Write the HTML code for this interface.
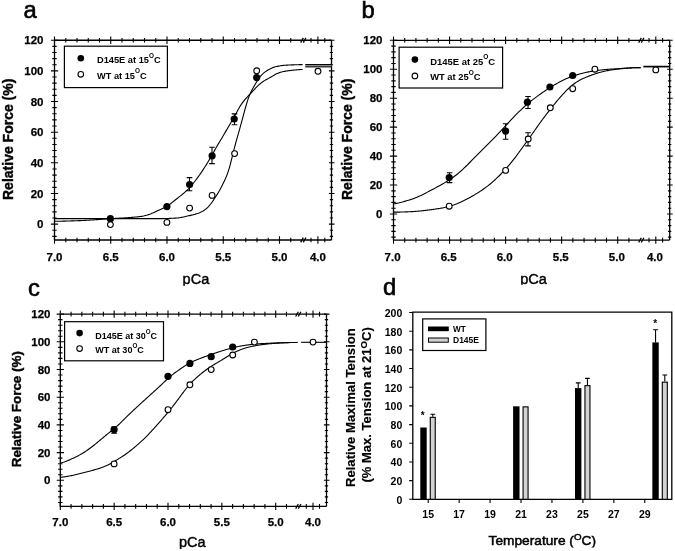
<!DOCTYPE html>
<html><head><meta charset="utf-8"><style>
html,body{margin:0;padding:0;background:#fff;}
body{width:675px;height:551px;overflow:hidden;}
svg{display:block;filter:grayscale(100%);}
</style></head><body>
<svg width="675" height="551" viewBox="0 0 675 551">
<rect width="675" height="551" fill="#fff"/>
<path d="M54.5,40.26 V240 M331.5,40.26 V240 M54.5,40.26 H331.5 M54.5,240 H331.5" stroke="#000" stroke-width="1.3" fill="none"/>
<path d="M50.9,40.26 H58.1 M328.9,40.26 H334.5 M52.3,46.39 H56.7 M329.8,46.39 H333.1 M52.3,52.52 H56.7 M329.8,52.52 H333.1 M52.3,58.64 H56.7 M329.8,58.64 H333.1 M52.3,64.77 H56.7 M329.8,64.77 H333.1 M50.9,70.9 H58.1 M328.9,70.9 H334.5 M52.3,77.03 H56.7 M329.8,77.03 H333.1 M52.3,83.16 H56.7 M329.8,83.16 H333.1 M52.3,89.28 H56.7 M329.8,89.28 H333.1 M52.3,95.41 H56.7 M329.8,95.41 H333.1 M50.9,101.54 H58.1 M328.9,101.54 H334.5 M52.3,107.67 H56.7 M329.8,107.67 H333.1 M52.3,113.8 H56.7 M329.8,113.8 H333.1 M52.3,119.92 H56.7 M329.8,119.92 H333.1 M52.3,126.05 H56.7 M329.8,126.05 H333.1 M50.9,132.18 H58.1 M328.9,132.18 H334.5 M52.3,138.31 H56.7 M329.8,138.31 H333.1 M52.3,144.44 H56.7 M329.8,144.44 H333.1 M52.3,150.56 H56.7 M329.8,150.56 H333.1 M52.3,156.69 H56.7 M329.8,156.69 H333.1 M50.9,162.82 H58.1 M328.9,162.82 H334.5 M52.3,168.95 H56.7 M329.8,168.95 H333.1 M52.3,175.08 H56.7 M329.8,175.08 H333.1 M52.3,181.2 H56.7 M329.8,181.2 H333.1 M52.3,187.33 H56.7 M329.8,187.33 H333.1 M50.9,193.46 H58.1 M328.9,193.46 H334.5 M52.3,199.59 H56.7 M329.8,199.59 H333.1 M52.3,205.72 H56.7 M329.8,205.72 H333.1 M52.3,211.84 H56.7 M329.8,211.84 H333.1 M52.3,217.97 H56.7 M329.8,217.97 H333.1 M50.9,224.1 H58.1 M328.9,224.1 H334.5 M52.3,230.23 H56.7 M329.8,230.23 H333.1 M52.3,236.36 H56.7 M329.8,236.36 H333.1 M54.5,36.56 V43.96 M54.5,236.3 V243.7 M65.75,37.96 V42.56 M65.75,237.7 V242.3 M77,37.96 V42.56 M77,237.7 V242.3 M88.25,37.96 V42.56 M88.25,237.7 V242.3 M99.5,37.96 V42.56 M99.5,237.7 V242.3 M110.75,36.56 V43.96 M110.75,236.3 V243.7 M122,37.96 V42.56 M122,237.7 V242.3 M133.25,37.96 V42.56 M133.25,237.7 V242.3 M144.5,37.96 V42.56 M144.5,237.7 V242.3 M155.75,37.96 V42.56 M155.75,237.7 V242.3 M167,36.56 V43.96 M167,236.3 V243.7 M178.25,37.96 V42.56 M178.25,237.7 V242.3 M189.5,37.96 V42.56 M189.5,237.7 V242.3 M200.75,37.96 V42.56 M200.75,237.7 V242.3 M212,37.96 V42.56 M212,237.7 V242.3 M223.25,36.56 V43.96 M223.25,236.3 V243.7 M234.5,37.96 V42.56 M234.5,237.7 V242.3 M245.75,37.96 V42.56 M245.75,237.7 V242.3 M257,37.96 V42.56 M257,237.7 V242.3 M268.25,37.96 V42.56 M268.25,237.7 V242.3 M279.5,36.56 V43.96 M279.5,236.3 V243.7 M290.75,37.96 V42.56 M290.75,237.7 V242.3 M311,37.96 V42.56 M311,237.7 V242.3 M317.9,36.56 V43.96 M317.9,236.3 V243.7 M324.8,37.96 V42.56 M324.8,237.7 V242.3" stroke="#000" stroke-width="1.1" fill="none"/>
<path d="M300.7,42.66 L303.3,37.86 M303.3,42.66 L305.9,37.86" stroke="#000" stroke-width="1.3" fill="none"/>
<path d="M300.7,242.4 L303.3,237.6 M303.3,242.4 L305.9,237.6" stroke="#000" stroke-width="1.3" fill="none"/>
<g font-family='"Liberation Sans", sans-serif' font-weight="bold" font-size="11.5" fill="#000" stroke="#000" stroke-width="0.25"><text x="43.5" y="228.2" text-anchor="end">0</text><text x="43.5" y="197.56" text-anchor="end">20</text><text x="43.5" y="166.92" text-anchor="end">40</text><text x="43.5" y="136.28" text-anchor="end">60</text><text x="43.5" y="105.64" text-anchor="end">80</text><text x="43.5" y="75" text-anchor="end">100</text><text x="43.5" y="44.36" text-anchor="end">120</text><text x="54.5" y="260.7" text-anchor="middle">7.0</text><text x="110.75" y="260.7" text-anchor="middle">6.5</text><text x="167" y="260.7" text-anchor="middle">6.0</text><text x="223.25" y="260.7" text-anchor="middle">5.5</text><text x="279.5" y="260.7" text-anchor="middle">5.0</text><text x="317.9" y="260.7" text-anchor="middle">4.0</text></g>
<path d="M54.5,221.29 L55.5,221.28 L56.5,221.27 L57.5,221.26 L58.5,221.24 L59.5,221.22 L60.5,221.2 L61.5,221.18 L62.5,221.16 L63.5,221.13 L64.5,221.11 L65.5,221.08 L66.5,221.05 L67.5,221.03 L68.5,221 L69.5,220.97 L70.5,220.93 L71.5,220.9 L72.5,220.87 L73.5,220.83 L74.5,220.8 L75.5,220.76 L76.5,220.73 L77.5,220.69 L78.5,220.66 L79.5,220.62 L80.5,220.58 L81.5,220.54 L82.5,220.49 L83.5,220.45 L84.5,220.4 L85.5,220.35 L86.5,220.3 L87.5,220.24 L88.5,220.18 L89.5,220.12 L90.5,220.06 L91.5,220 L92.5,219.94 L93.5,219.87 L94.5,219.81 L95.5,219.74 L96.5,219.67 L97.5,219.6 L98.5,219.53 L99.5,219.46 L100.5,219.39 L101.5,219.32 L102.5,219.25 L103.5,219.18 L104.5,219.11 L105.5,219.04 L106.5,218.97 L107.5,218.9 L108.5,218.83 L109.5,218.76 L110.5,218.7 L111.5,218.63 L112.5,218.57 L113.5,218.51 L114.5,218.45 L115.5,218.39 L116.5,218.33 L117.5,218.28 L118.5,218.22 L119.5,218.17 L120.5,218.11 L121.5,218.06 L122.5,218 L123.5,217.95 L124.5,217.89 L125.5,217.83 L126.5,217.77 L127.5,217.7 L128.5,217.64 L129.5,217.57 L130.5,217.49 L131.5,217.42 L132.5,217.34 L133.5,217.26 L134.5,217.17 L135.5,217.07 L136.5,216.98 L137.5,216.87 L138.5,216.76 L139.5,216.64 L140.5,216.51 L141.5,216.35 L142.5,216.17 L143.5,215.97 L144.5,215.74 L145.5,215.49 L146.5,215.22 L147.5,214.94 L148.5,214.63 L149.5,214.3 L150.5,213.93 L151.5,213.52 L152.5,213.09 L153.5,212.63 L154.5,212.17 L155.5,211.7 L156.5,211.23 L157.5,210.77 L158.5,210.33 L159.5,209.89 L160.5,209.46 L161.5,209.03 L162.5,208.58 L163.5,208.12 L164.5,207.64 L165.5,207.12 L166.5,206.55 L167.5,205.94 L168.5,205.27 L169.5,204.55 L170.5,203.79 L171.5,202.99 L172.5,202.18 L173.5,201.36 L174.5,200.54 L175.5,199.74 L176.5,198.96 L177.5,198.19 L178.5,197.42 L179.5,196.66 L180.5,195.89 L181.5,195.1 L182.5,194.29 L183.5,193.45 L184.5,192.58 L185.5,191.68 L186.5,190.75 L187.5,189.78 L188.5,188.77 L189.5,187.71 L190.5,186.6 L191.5,185.45 L192.5,184.25 L193.5,183.02 L194.5,181.76 L195.5,180.47 L196.5,179.15 L197.5,177.8 L198.5,176.43 L199.5,175.02 L200.5,173.58 L201.5,172.12 L202.5,170.62 L203.5,169.1 L204.5,167.56 L205.5,165.98 L206.5,164.37 L207.5,162.74 L208.5,161.08 L209.5,159.4 L210.5,157.7 L211.5,155.98 L212.5,154.23 L213.5,152.44 L214.5,150.64 L215.5,148.85 L216.5,147.08 L217.5,145.34 L218.5,143.65 L219.5,141.98 L220.5,140.32 L221.5,138.66 L222.5,136.98 L223.5,135.29 L224.5,133.59 L225.5,131.86 L226.5,130.13 L227.5,128.41 L228.5,126.69 L229.5,124.98 L230.5,123.28 L231.5,121.59 L232.5,119.88 L233.5,118.14 L234.5,116.37 L235.5,114.54 L236.5,112.68 L237.5,110.8 L238.5,108.97 L239.5,107.21 L240.5,105.58 L241.5,104.06 L242.5,102.67 L243.5,101.36 L244.5,100.13 L245.5,98.96 L246.5,97.84 L247.5,96.77 L248.5,95.72 L249.5,94.68 L250.5,93.63 L251.5,92.56 L252.5,91.48 L253.5,90.39 L254.5,89.31 L255.5,88.23 L256.5,87.17 L257.5,86.16 L258.5,85.2 L259.5,84.3 L260.5,83.46 L261.5,82.68 L262.5,81.94 L263.5,81.26 L264.5,80.62 L265.5,80.03 L266.5,79.47 L267.5,78.93 L268.5,78.39 L269.5,77.85 L270.5,77.28 L271.5,76.7 L272.5,76.1 L273.5,75.5 L274.5,74.91 L275.5,74.35 L276.5,73.84 L277.5,73.39 L278.5,72.99 L279.5,72.64 L280.5,72.32 L281.5,72.04 L282.5,71.78 L283.5,71.55 L284.5,71.34 L285.5,71.16 L286.5,70.99 L287.5,70.84 L288.5,70.7 L289.5,70.58 L290.5,70.46 L291.5,70.35 L292.5,70.25 L293.5,70.15 L294.5,70.05 L295.5,69.96 L296.5,69.87 L297.5,69.78 L298.5,69.7 L299.5,69.62 L300.5,69.55 L301.5,69.49 L302.5,69.44 L302.6,69.42" stroke="#000" stroke-width="1.1" fill="none"/>
<path d="M54.5,218.6 L55.5,218.6 L56.5,218.6 L57.5,218.6 L58.5,218.6 L59.5,218.6 L60.5,218.6 L61.5,218.6 L62.5,218.6 L63.5,218.6 L64.5,218.6 L65.5,218.6 L66.5,218.6 L67.5,218.6 L68.5,218.6 L69.5,218.6 L70.5,218.6 L71.5,218.6 L72.5,218.6 L73.5,218.6 L74.5,218.6 L75.5,218.6 L76.5,218.6 L77.5,218.6 L78.5,218.6 L79.5,218.6 L80.5,218.6 L81.5,218.6 L82.5,218.6 L83.5,218.6 L84.5,218.6 L85.5,218.6 L86.5,218.6 L87.5,218.6 L88.5,218.6 L89.5,218.6 L90.5,218.6 L91.5,218.6 L92.5,218.6 L93.5,218.6 L94.5,218.6 L95.5,218.6 L96.5,218.6 L97.5,218.6 L98.5,218.6 L99.5,218.6 L100.5,218.6 L101.5,218.6 L102.5,218.6 L103.5,218.6 L104.5,218.6 L105.5,218.6 L106.5,218.6 L107.5,218.6 L108.5,218.6 L109.5,218.6 L110.5,218.6 L111.5,218.6 L112.5,218.6 L113.5,218.6 L114.5,218.6 L115.5,218.6 L116.5,218.6 L117.5,218.6 L118.5,218.6 L119.5,218.6 L120.5,218.6 L121.5,218.6 L122.5,218.6 L123.5,218.6 L124.5,218.6 L125.5,218.6 L126.5,218.6 L127.5,218.6 L128.5,218.6 L129.5,218.6 L130.5,218.6 L131.5,218.6 L132.5,218.6 L133.5,218.6 L134.5,218.6 L135.5,218.6 L136.5,218.6 L137.5,218.6 L138.5,218.6 L139.5,218.6 L140.5,218.6 L141.5,218.6 L142.5,218.6 L143.5,218.6 L144.5,218.6 L145.5,218.6 L146.5,218.6 L147.5,218.6 L148.5,218.6 L149.5,218.6 L150.5,218.6 L151.5,218.6 L152.5,218.6 L153.5,218.6 L154.5,218.6 L155.5,218.6 L156.5,218.6 L157.5,218.6 L158.5,218.6 L159.5,218.6 L160.5,218.6 L161.5,218.6 L162.5,218.59 L163.5,218.58 L164.5,218.57 L165.5,218.55 L166.5,218.52 L167.5,218.49 L168.5,218.46 L169.5,218.42 L170.5,218.37 L171.5,218.32 L172.5,218.27 L173.5,218.21 L174.5,218.15 L175.5,218.08 L176.5,218.01 L177.5,217.93 L178.5,217.84 L179.5,217.72 L180.5,217.58 L181.5,217.4 L182.5,217.21 L183.5,216.99 L184.5,216.76 L185.5,216.53 L186.5,216.29 L187.5,216.05 L188.5,215.82 L189.5,215.6 L190.5,215.37 L191.5,215.15 L192.5,214.92 L193.5,214.67 L194.5,214.41 L195.5,214.13 L196.5,213.83 L197.5,213.51 L198.5,213.15 L199.5,212.76 L200.5,212.33 L201.5,211.85 L202.5,211.31 L203.5,210.72 L204.5,210.06 L205.5,209.32 L206.5,208.5 L207.5,207.58 L208.5,206.57 L209.5,205.46 L210.5,204.26 L211.5,202.95 L212.5,201.54 L213.5,200.07 L214.5,198.56 L215.5,197.03 L216.5,195.49 L217.5,193.9 L218.5,192.25 L219.5,190.52 L220.5,188.7 L221.5,186.81 L222.5,184.85 L223.5,182.82 L224.5,180.71 L225.5,178.49 L226.5,176.11 L227.5,173.51 L228.5,170.6 L229.5,167.3 L230.5,163.62 L231.5,159.68 L232.5,155.64 L233.5,151.61 L234.5,147.67 L235.5,143.85 L236.5,140.15 L237.5,136.57 L238.5,133.06 L239.5,129.53 L240.5,125.96 L241.5,122.31 L242.5,118.6 L243.5,114.85 L244.5,111.13 L245.5,107.5 L246.5,104.04 L247.5,100.83 L248.5,97.92 L249.5,95.34 L250.5,93.03 L251.5,90.95 L252.5,89.01 L253.5,87.17 L254.5,85.4 L255.5,83.68 L256.5,82 L257.5,80.38 L258.5,78.85 L259.5,77.45 L260.5,76.18 L261.5,75.05 L262.5,74.05 L263.5,73.15 L264.5,72.34 L265.5,71.61 L266.5,70.94 L267.5,70.31 L268.5,69.71 L269.5,69.15 L270.5,68.63 L271.5,68.16 L272.5,67.74 L273.5,67.38 L274.5,67.08 L275.5,66.81 L276.5,66.57 L277.5,66.36 L278.5,66.16 L279.5,65.98 L280.5,65.81 L281.5,65.66 L282.5,65.53 L283.5,65.41 L284.5,65.31 L285.5,65.23 L286.5,65.16 L287.5,65.1 L288.5,65.05 L289.5,65 L290.5,64.96 L291.5,64.92 L292.5,64.88 L293.5,64.85 L294.5,64.82 L295.5,64.79 L296.5,64.75 L297.5,64.73 L298.5,64.7 L299.5,64.67 L300.5,64.65 L301.5,64.63 L302.5,64.61 L302.6,64.61" stroke="#000" stroke-width="1.1" fill="none"/>
<rect x="305.3" y="64.5" width="26.2" height="2.4" fill="#8a8a8a"/>
<path d="M305.3,64.5 H331.5 M305.3,66.9 H331.5" stroke="#000" stroke-width="1.0" fill="none"/>
<path d="M189.5,177.6 V190.8 M186.7,177.6 H192.3 M186.7,190.8 H192.3" stroke="#000" stroke-width="1.1" fill="none"/>
<path d="M212,147.2 V163.6 M209.2,147.2 H214.8 M209.2,163.6 H214.8" stroke="#000" stroke-width="1.1" fill="none"/>
<path d="M234.5,113.9 V124.8 M231.7,113.9 H237.3 M231.7,124.8 H237.3" stroke="#000" stroke-width="1.1" fill="none"/>
<circle cx="110.4" cy="224.6" r="2.9" fill="#fff" stroke="#000" stroke-width="1.1"/>
<circle cx="166.9" cy="222.4" r="2.9" fill="#fff" stroke="#000" stroke-width="1.1"/>
<circle cx="189.6" cy="208.1" r="2.9" fill="#fff" stroke="#000" stroke-width="1.1"/>
<circle cx="212.1" cy="195.4" r="2.9" fill="#fff" stroke="#000" stroke-width="1.1"/>
<circle cx="234.6" cy="153.6" r="2.9" fill="#fff" stroke="#000" stroke-width="1.1"/>
<circle cx="256.7" cy="70.8" r="2.9" fill="#fff" stroke="#000" stroke-width="1.1"/>
<circle cx="318" cy="71.3" r="2.9" fill="#fff" stroke="#000" stroke-width="1.1"/>
<circle cx="110.4" cy="218.7" r="3.6" fill="#000"/>
<circle cx="166.9" cy="206.6" r="3.6" fill="#000"/>
<circle cx="189.6" cy="184.5" r="3.6" fill="#000"/>
<circle cx="212.1" cy="155.8" r="3.6" fill="#000"/>
<circle cx="234.2" cy="119" r="3.6" fill="#000"/>
<circle cx="256.7" cy="77.6" r="3.6" fill="#000"/>
<rect x="64.4" y="46.2" width="103" height="41.4" fill="#fff" stroke="#000" stroke-width="1.2"/>
<circle cx="80.8" cy="58.3" r="3.3" fill="#000"/>
<circle cx="80.8" cy="74.3" r="2.8" fill="#fff" stroke="#000" stroke-width="1.1"/>
<g font-family='"Liberation Sans", sans-serif' font-weight="bold" font-size="9.8" fill="#000"><text x="97" y="63.3" textLength="63.6" lengthAdjust="spacingAndGlyphs">D145E at 15<tspan font-size="6.8" dy="-5.3">O</tspan><tspan dy="5.3">C</tspan></text><text x="97" y="78.6" textLength="49.6" lengthAdjust="spacingAndGlyphs">WT at 15<tspan font-size="6.8" dy="-5.3">O</tspan><tspan dy="5.3">C</tspan></text></g>
<text x="0" y="0" transform="translate(12.9,139.3) rotate(-90)" text-anchor="middle" font-family='"Liberation Sans", sans-serif' font-weight="bold" font-size="14" fill="#000" stroke="#000" stroke-width="0.4">Relative Force (%)</text>
<clipPath id="pca"><rect x="176.2" y="268" width="40" height="17.8"/></clipPath>
<text x="182.6" y="284" clip-path="url(#pca)" textLength="26.6" lengthAdjust="spacingAndGlyphs" font-family='"Liberation Sans", sans-serif' font-size="15.3" fill="#000" stroke="#000" stroke-width="0.45">pCa</text>
<text x="23.6" y="18.2" font-family='"Liberation Sans", sans-serif' font-size="23.8" fill="#000" stroke="#000" stroke-width="0.6">a</text>
<path d="M393.5,40.3 V240.1 M669.7,40.3 V240.1 M393.5,40.3 H669.7 M393.5,240.1 H669.7" stroke="#000" stroke-width="1.3" fill="none"/>
<path d="M389.9,40.3 H397.1 M667.1,40.3 H672.7 M391.3,46.09 H395.7 M668,46.09 H671.3 M391.3,51.88 H395.7 M668,51.88 H671.3 M391.3,57.67 H395.7 M668,57.67 H671.3 M391.3,63.46 H395.7 M668,63.46 H671.3 M389.9,69.25 H397.1 M667.1,69.25 H672.7 M391.3,75.04 H395.7 M668,75.04 H671.3 M391.3,80.83 H395.7 M668,80.83 H671.3 M391.3,86.62 H395.7 M668,86.62 H671.3 M391.3,92.41 H395.7 M668,92.41 H671.3 M389.9,98.2 H397.1 M667.1,98.2 H672.7 M391.3,103.99 H395.7 M668,103.99 H671.3 M391.3,109.78 H395.7 M668,109.78 H671.3 M391.3,115.57 H395.7 M668,115.57 H671.3 M391.3,121.36 H395.7 M668,121.36 H671.3 M389.9,127.15 H397.1 M667.1,127.15 H672.7 M391.3,132.94 H395.7 M668,132.94 H671.3 M391.3,138.73 H395.7 M668,138.73 H671.3 M391.3,144.52 H395.7 M668,144.52 H671.3 M391.3,150.31 H395.7 M668,150.31 H671.3 M389.9,156.1 H397.1 M667.1,156.1 H672.7 M391.3,161.89 H395.7 M668,161.89 H671.3 M391.3,167.68 H395.7 M668,167.68 H671.3 M391.3,173.47 H395.7 M668,173.47 H671.3 M391.3,179.26 H395.7 M668,179.26 H671.3 M389.9,185.05 H397.1 M667.1,185.05 H672.7 M391.3,190.84 H395.7 M668,190.84 H671.3 M391.3,196.63 H395.7 M668,196.63 H671.3 M391.3,202.42 H395.7 M668,202.42 H671.3 M391.3,208.21 H395.7 M668,208.21 H671.3 M389.9,214 H397.1 M667.1,214 H672.7 M391.3,219.79 H395.7 M668,219.79 H671.3 M391.3,225.58 H395.7 M668,225.58 H671.3 M391.3,231.37 H395.7 M668,231.37 H671.3 M391.3,237.16 H395.7 M668,237.16 H671.3 M393.5,36.6 V44 M393.5,236.4 V243.8 M404.71,38 V42.6 M404.71,237.8 V242.4 M415.92,38 V42.6 M415.92,237.8 V242.4 M427.13,38 V42.6 M427.13,237.8 V242.4 M438.34,38 V42.6 M438.34,237.8 V242.4 M449.55,36.6 V44 M449.55,236.4 V243.8 M460.76,38 V42.6 M460.76,237.8 V242.4 M471.97,38 V42.6 M471.97,237.8 V242.4 M483.18,38 V42.6 M483.18,237.8 V242.4 M494.39,38 V42.6 M494.39,237.8 V242.4 M505.6,36.6 V44 M505.6,236.4 V243.8 M516.81,38 V42.6 M516.81,237.8 V242.4 M528.02,38 V42.6 M528.02,237.8 V242.4 M539.23,38 V42.6 M539.23,237.8 V242.4 M550.44,38 V42.6 M550.44,237.8 V242.4 M561.65,36.6 V44 M561.65,236.4 V243.8 M572.86,38 V42.6 M572.86,237.8 V242.4 M584.07,38 V42.6 M584.07,237.8 V242.4 M595.28,38 V42.6 M595.28,237.8 V242.4 M606.49,38 V42.6 M606.49,237.8 V242.4 M617.7,36.6 V44 M617.7,236.4 V243.8 M628.91,38 V42.6 M628.91,237.8 V242.4 M649,38 V42.6 M649,237.8 V242.4 M655.8,36.6 V44 M655.8,236.4 V243.8 M662.6,38 V42.6 M662.6,237.8 V242.4" stroke="#000" stroke-width="1.1" fill="none"/>
<path d="M638.7,42.7 L641.3,37.9 M641.3,42.7 L643.9,37.9" stroke="#000" stroke-width="1.3" fill="none"/>
<path d="M638.7,242.5 L641.3,237.7 M641.3,242.5 L643.9,237.7" stroke="#000" stroke-width="1.3" fill="none"/>
<g font-family='"Liberation Sans", sans-serif' font-weight="bold" font-size="11.5" fill="#000" stroke="#000" stroke-width="0.25"><text x="382.5" y="218.1" text-anchor="end">0</text><text x="382.5" y="189.15" text-anchor="end">20</text><text x="382.5" y="160.2" text-anchor="end">40</text><text x="382.5" y="131.25" text-anchor="end">60</text><text x="382.5" y="102.3" text-anchor="end">80</text><text x="382.5" y="73.35" text-anchor="end">100</text><text x="382.5" y="44.4" text-anchor="end">120</text><text x="392.6" y="260.8" text-anchor="middle">7.0</text><text x="448.65" y="260.8" text-anchor="middle">6.5</text><text x="504.7" y="260.8" text-anchor="middle">6.0</text><text x="560.75" y="260.8" text-anchor="middle">5.5</text><text x="616.8" y="260.8" text-anchor="middle">5.0</text><text x="654.9" y="260.8" text-anchor="middle">4.0</text></g>
<path d="M393.5,203.93 L394.5,203.78 L395.5,203.6 L396.5,203.4 L397.5,203.19 L398.5,202.96 L399.5,202.71 L400.5,202.46 L401.5,202.2 L402.5,201.93 L403.5,201.66 L404.5,201.38 L405.5,201.11 L406.5,200.83 L407.5,200.54 L408.5,200.25 L409.5,199.95 L410.5,199.64 L411.5,199.32 L412.5,198.98 L413.5,198.62 L414.5,198.25 L415.5,197.86 L416.5,197.45 L417.5,197.02 L418.5,196.57 L419.5,196.11 L420.5,195.64 L421.5,195.15 L422.5,194.66 L423.5,194.16 L424.5,193.65 L425.5,193.14 L426.5,192.63 L427.5,192.12 L428.5,191.6 L429.5,191.08 L430.5,190.56 L431.5,190.03 L432.5,189.5 L433.5,188.97 L434.5,188.43 L435.5,187.89 L436.5,187.35 L437.5,186.8 L438.5,186.26 L439.5,185.71 L440.5,185.15 L441.5,184.6 L442.5,184.03 L443.5,183.46 L444.5,182.88 L445.5,182.28 L446.5,181.68 L447.5,181.06 L448.5,180.42 L449.5,179.77 L450.5,179.1 L451.5,178.42 L452.5,177.72 L453.5,177 L454.5,176.27 L455.5,175.52 L456.5,174.74 L457.5,173.95 L458.5,173.13 L459.5,172.29 L460.5,171.42 L461.5,170.53 L462.5,169.62 L463.5,168.68 L464.5,167.72 L465.5,166.75 L466.5,165.76 L467.5,164.77 L468.5,163.76 L469.5,162.76 L470.5,161.75 L471.5,160.73 L472.5,159.72 L473.5,158.71 L474.5,157.7 L475.5,156.69 L476.5,155.68 L477.5,154.68 L478.5,153.67 L479.5,152.66 L480.5,151.66 L481.5,150.65 L482.5,149.65 L483.5,148.65 L484.5,147.65 L485.5,146.65 L486.5,145.65 L487.5,144.65 L488.5,143.66 L489.5,142.66 L490.5,141.66 L491.5,140.65 L492.5,139.64 L493.5,138.63 L494.5,137.61 L495.5,136.57 L496.5,135.53 L497.5,134.48 L498.5,133.43 L499.5,132.36 L500.5,131.29 L501.5,130.21 L502.5,129.13 L503.5,128.04 L504.5,126.95 L505.5,125.86 L506.5,124.77 L507.5,123.69 L508.5,122.6 L509.5,121.52 L510.5,120.45 L511.5,119.38 L512.5,118.32 L513.5,117.27 L514.5,116.23 L515.5,115.21 L516.5,114.19 L517.5,113.19 L518.5,112.21 L519.5,111.23 L520.5,110.28 L521.5,109.33 L522.5,108.4 L523.5,107.48 L524.5,106.58 L525.5,105.69 L526.5,104.82 L527.5,103.96 L528.5,103.11 L529.5,102.28 L530.5,101.46 L531.5,100.66 L532.5,99.87 L533.5,99.1 L534.5,98.33 L535.5,97.58 L536.5,96.84 L537.5,96.11 L538.5,95.38 L539.5,94.67 L540.5,93.96 L541.5,93.25 L542.5,92.56 L543.5,91.87 L544.5,91.18 L545.5,90.51 L546.5,89.84 L547.5,89.18 L548.5,88.53 L549.5,87.89 L550.5,87.26 L551.5,86.64 L552.5,86.03 L553.5,85.42 L554.5,84.83 L555.5,84.25 L556.5,83.68 L557.5,83.11 L558.5,82.56 L559.5,82.02 L560.5,81.49 L561.5,80.98 L562.5,80.48 L563.5,79.99 L564.5,79.52 L565.5,79.06 L566.5,78.62 L567.5,78.19 L568.5,77.78 L569.5,77.38 L570.5,76.99 L571.5,76.61 L572.5,76.25 L573.5,75.9 L574.5,75.56 L575.5,75.24 L576.5,74.92 L577.5,74.62 L578.5,74.32 L579.5,74.04 L580.5,73.76 L581.5,73.5 L582.5,73.25 L583.5,73 L584.5,72.77 L585.5,72.54 L586.5,72.32 L587.5,72.11 L588.5,71.91 L589.5,71.72 L590.5,71.53 L591.5,71.35 L592.5,71.18 L593.5,71.02 L594.5,70.86 L595.5,70.71 L596.5,70.57 L597.5,70.44 L598.5,70.3 L599.5,70.18 L600.5,70.06 L601.5,69.95 L602.5,69.84 L603.5,69.74 L604.5,69.64 L605.5,69.55 L606.5,69.46 L607.5,69.38 L608.5,69.3 L609.5,69.22 L610.5,69.15 L611.5,69.08 L612.5,69.01 L613.5,68.94 L614.5,68.88 L615.5,68.82 L616.5,68.76 L617.5,68.71 L618.5,68.65 L619.5,68.59 L620.5,68.53 L621.5,68.47 L622.5,68.41 L623.5,68.34 L624.5,68.28 L625.5,68.21 L626.5,68.14 L627.5,68.08 L628.5,68.02 L629.5,67.95 L630.5,67.9 L631.5,67.85 L632.5,67.8 L633.5,67.76 L634.5,67.73 L635.5,67.7 L636.5,67.68 L637.5,67.66 L638.5,67.64 L639.5,67.63 L640.5,67.62 L640.6,67.62" stroke="#000" stroke-width="1.1" fill="none"/>
<path d="M393.5,212.18 L394.5,212.17 L395.5,212.16 L396.5,212.14 L397.5,212.13 L398.5,212.11 L399.5,212.09 L400.5,212.07 L401.5,212.04 L402.5,212.01 L403.5,211.98 L404.5,211.94 L405.5,211.91 L406.5,211.87 L407.5,211.83 L408.5,211.78 L409.5,211.74 L410.5,211.69 L411.5,211.64 L412.5,211.58 L413.5,211.52 L414.5,211.46 L415.5,211.39 L416.5,211.32 L417.5,211.24 L418.5,211.16 L419.5,211.07 L420.5,210.98 L421.5,210.88 L422.5,210.77 L423.5,210.66 L424.5,210.55 L425.5,210.42 L426.5,210.3 L427.5,210.17 L428.5,210.04 L429.5,209.9 L430.5,209.77 L431.5,209.63 L432.5,209.49 L433.5,209.34 L434.5,209.2 L435.5,209.05 L436.5,208.9 L437.5,208.75 L438.5,208.59 L439.5,208.43 L440.5,208.27 L441.5,208.1 L442.5,207.92 L443.5,207.74 L444.5,207.54 L445.5,207.33 L446.5,207.11 L447.5,206.88 L448.5,206.63 L449.5,206.36 L450.5,206.07 L451.5,205.77 L452.5,205.44 L453.5,205.1 L454.5,204.73 L455.5,204.35 L456.5,203.96 L457.5,203.54 L458.5,203.11 L459.5,202.67 L460.5,202.22 L461.5,201.76 L462.5,201.28 L463.5,200.8 L464.5,200.31 L465.5,199.81 L466.5,199.3 L467.5,198.78 L468.5,198.25 L469.5,197.71 L470.5,197.16 L471.5,196.6 L472.5,196.04 L473.5,195.46 L474.5,194.87 L475.5,194.26 L476.5,193.65 L477.5,193.03 L478.5,192.39 L479.5,191.75 L480.5,191.09 L481.5,190.42 L482.5,189.73 L483.5,189.03 L484.5,188.32 L485.5,187.59 L486.5,186.85 L487.5,186.09 L488.5,185.32 L489.5,184.52 L490.5,183.71 L491.5,182.88 L492.5,182.03 L493.5,181.16 L494.5,180.26 L495.5,179.35 L496.5,178.42 L497.5,177.47 L498.5,176.49 L499.5,175.5 L500.5,174.5 L501.5,173.47 L502.5,172.43 L503.5,171.37 L504.5,170.29 L505.5,169.2 L506.5,168.09 L507.5,166.96 L508.5,165.8 L509.5,164.63 L510.5,163.43 L511.5,162.2 L512.5,160.95 L513.5,159.67 L514.5,158.37 L515.5,157.05 L516.5,155.72 L517.5,154.37 L518.5,153 L519.5,151.63 L520.5,150.26 L521.5,148.88 L522.5,147.51 L523.5,146.13 L524.5,144.75 L525.5,143.36 L526.5,141.98 L527.5,140.59 L528.5,139.19 L529.5,137.79 L530.5,136.38 L531.5,134.96 L532.5,133.54 L533.5,132.12 L534.5,130.7 L535.5,129.28 L536.5,127.85 L537.5,126.44 L538.5,125.03 L539.5,123.63 L540.5,122.24 L541.5,120.86 L542.5,119.5 L543.5,118.15 L544.5,116.81 L545.5,115.48 L546.5,114.17 L547.5,112.87 L548.5,111.58 L549.5,110.3 L550.5,109.02 L551.5,107.76 L552.5,106.51 L553.5,105.27 L554.5,104.03 L555.5,102.81 L556.5,101.61 L557.5,100.41 L558.5,99.24 L559.5,98.07 L560.5,96.93 L561.5,95.8 L562.5,94.69 L563.5,93.59 L564.5,92.53 L565.5,91.48 L566.5,90.47 L567.5,89.48 L568.5,88.52 L569.5,87.59 L570.5,86.7 L571.5,85.85 L572.5,85.03 L573.5,84.25 L574.5,83.5 L575.5,82.8 L576.5,82.13 L577.5,81.5 L578.5,80.9 L579.5,80.33 L580.5,79.79 L581.5,79.28 L582.5,78.8 L583.5,78.33 L584.5,77.89 L585.5,77.46 L586.5,77.04 L587.5,76.64 L588.5,76.25 L589.5,75.87 L590.5,75.5 L591.5,75.14 L592.5,74.78 L593.5,74.44 L594.5,74.1 L595.5,73.77 L596.5,73.44 L597.5,73.13 L598.5,72.82 L599.5,72.52 L600.5,72.24 L601.5,71.97 L602.5,71.7 L603.5,71.46 L604.5,71.22 L605.5,71 L606.5,70.8 L607.5,70.6 L608.5,70.42 L609.5,70.25 L610.5,70.08 L611.5,69.93 L612.5,69.78 L613.5,69.64 L614.5,69.51 L615.5,69.38 L616.5,69.26 L617.5,69.13 L618.5,69.02 L619.5,68.9 L620.5,68.79 L621.5,68.68 L622.5,68.58 L623.5,68.48 L624.5,68.38 L625.5,68.29 L626.5,68.2 L627.5,68.12 L628.5,68.04 L629.5,67.97 L630.5,67.91 L631.5,67.85 L632.5,67.8 L633.5,67.76 L634.5,67.73 L635.5,67.7 L636.5,67.67 L637.5,67.66 L638.5,67.64 L639.5,67.63 L640.5,67.62 L640.6,67.61" stroke="#000" stroke-width="1.1" fill="none"/>
<path d="M643.3,66.6 H669.7" stroke="#000" stroke-width="1.7" fill="none"/>
<path d="M449.55,172.8 V182.6 M446.75,172.8 H452.35 M446.75,182.6 H452.35" stroke="#000" stroke-width="1.1" fill="none"/>
<path d="M505.6,123.8 V139.2 M502.8,123.8 H508.4 M502.8,139.2 H508.4" stroke="#000" stroke-width="1.1" fill="none"/>
<path d="M528.02,96.5 V108.5 M525.22,96.5 H530.82 M525.22,108.5 H530.82" stroke="#000" stroke-width="1.1" fill="none"/>
<path d="M528.02,132.7 V145.9 M525.22,132.7 H530.82 M525.22,145.9 H530.82" stroke="#000" stroke-width="1.1" fill="none"/>
<circle cx="449.2" cy="206.2" r="2.9" fill="#fff" stroke="#000" stroke-width="1.1"/>
<circle cx="505.6" cy="170.4" r="2.9" fill="#fff" stroke="#000" stroke-width="1.1"/>
<circle cx="528.2" cy="139" r="2.9" fill="#fff" stroke="#000" stroke-width="1.1"/>
<circle cx="550.3" cy="107.8" r="2.9" fill="#fff" stroke="#000" stroke-width="1.1"/>
<circle cx="572.7" cy="88.7" r="2.9" fill="#fff" stroke="#000" stroke-width="1.1"/>
<circle cx="594.9" cy="69.2" r="2.9" fill="#fff" stroke="#000" stroke-width="1.1"/>
<circle cx="655.8" cy="69.9" r="2.9" fill="#fff" stroke="#000" stroke-width="1.1"/>
<circle cx="449.2" cy="177.5" r="3.6" fill="#000"/>
<circle cx="505.6" cy="131.1" r="3.6" fill="#000"/>
<circle cx="527.4" cy="102.2" r="3.6" fill="#000"/>
<circle cx="549.9" cy="87" r="3.6" fill="#000"/>
<circle cx="572.7" cy="75.5" r="3.6" fill="#000"/>
<rect x="399.1" y="47.2" width="103.5" height="40.8" fill="#fff" stroke="#000" stroke-width="1.2"/>
<circle cx="414.9" cy="59.6" r="3.3" fill="#000"/>
<circle cx="414.9" cy="75.9" r="2.8" fill="#fff" stroke="#000" stroke-width="1.1"/>
<g font-family='"Liberation Sans", sans-serif' font-weight="bold" font-size="9.8" fill="#000"><text x="430.2" y="64.6" textLength="65" lengthAdjust="spacingAndGlyphs">D145E at 25<tspan font-size="6.8" dy="-5.3">O</tspan><tspan dy="5.3">C</tspan></text><text x="430.2" y="79.9" textLength="50.4" lengthAdjust="spacingAndGlyphs">WT at 25<tspan font-size="6.8" dy="-5.3">O</tspan><tspan dy="5.3">C</tspan></text></g>
<text x="0" y="0" transform="translate(352,139.3) rotate(-90)" text-anchor="middle" font-family='"Liberation Sans", sans-serif' font-weight="bold" font-size="14" fill="#000" stroke="#000" stroke-width="0.4">Relative Force (%)</text>
<clipPath id="pcb"><rect x="513.8" y="268" width="40" height="16.7"/></clipPath>
<text x="520.2" y="284" clip-path="url(#pcb)" textLength="26.6" lengthAdjust="spacingAndGlyphs" font-family='"Liberation Sans", sans-serif' font-size="15.3" fill="#000" stroke="#000" stroke-width="0.45">pCa</text>
<text x="361.6" y="18.2" font-family='"Liberation Sans", sans-serif' font-size="23.8" fill="#000" stroke="#000" stroke-width="0.6">b</text>
<path d="M60.3,314.1 V506.4 M326.5,314.1 V506.4 M60.3,314.1 H326.5 M60.3,506.4 H326.5" stroke="#000" stroke-width="1.3" fill="none"/>
<path d="M56.7,314.1 H63.9 M323.9,314.1 H329.5 M58.1,319.64 H62.5 M324.8,319.64 H328.1 M58.1,325.18 H62.5 M324.8,325.18 H328.1 M58.1,330.72 H62.5 M324.8,330.72 H328.1 M58.1,336.26 H62.5 M324.8,336.26 H328.1 M56.7,341.8 H63.9 M323.9,341.8 H329.5 M58.1,347.34 H62.5 M324.8,347.34 H328.1 M58.1,352.88 H62.5 M324.8,352.88 H328.1 M58.1,358.42 H62.5 M324.8,358.42 H328.1 M58.1,363.96 H62.5 M324.8,363.96 H328.1 M56.7,369.5 H63.9 M323.9,369.5 H329.5 M58.1,375.04 H62.5 M324.8,375.04 H328.1 M58.1,380.58 H62.5 M324.8,380.58 H328.1 M58.1,386.12 H62.5 M324.8,386.12 H328.1 M58.1,391.66 H62.5 M324.8,391.66 H328.1 M56.7,397.2 H63.9 M323.9,397.2 H329.5 M58.1,402.74 H62.5 M324.8,402.74 H328.1 M58.1,408.28 H62.5 M324.8,408.28 H328.1 M58.1,413.82 H62.5 M324.8,413.82 H328.1 M58.1,419.36 H62.5 M324.8,419.36 H328.1 M56.7,424.9 H63.9 M323.9,424.9 H329.5 M58.1,430.44 H62.5 M324.8,430.44 H328.1 M58.1,435.98 H62.5 M324.8,435.98 H328.1 M58.1,441.52 H62.5 M324.8,441.52 H328.1 M58.1,447.06 H62.5 M324.8,447.06 H328.1 M56.7,452.6 H63.9 M323.9,452.6 H329.5 M58.1,458.14 H62.5 M324.8,458.14 H328.1 M58.1,463.68 H62.5 M324.8,463.68 H328.1 M58.1,469.22 H62.5 M324.8,469.22 H328.1 M58.1,474.76 H62.5 M324.8,474.76 H328.1 M56.7,480.3 H63.9 M323.9,480.3 H329.5 M58.1,485.84 H62.5 M324.8,485.84 H328.1 M58.1,491.38 H62.5 M324.8,491.38 H328.1 M58.1,496.92 H62.5 M324.8,496.92 H328.1 M58.1,502.46 H62.5 M324.8,502.46 H328.1 M60.3,310.4 V317.8 M60.3,502.7 V510.1 M71.07,311.8 V316.4 M71.07,504.1 V508.7 M81.84,311.8 V316.4 M81.84,504.1 V508.7 M92.61,311.8 V316.4 M92.61,504.1 V508.7 M103.38,311.8 V316.4 M103.38,504.1 V508.7 M114.15,310.4 V317.8 M114.15,502.7 V510.1 M124.92,311.8 V316.4 M124.92,504.1 V508.7 M135.69,311.8 V316.4 M135.69,504.1 V508.7 M146.46,311.8 V316.4 M146.46,504.1 V508.7 M157.23,311.8 V316.4 M157.23,504.1 V508.7 M168,310.4 V317.8 M168,502.7 V510.1 M178.77,311.8 V316.4 M178.77,504.1 V508.7 M189.54,311.8 V316.4 M189.54,504.1 V508.7 M200.31,311.8 V316.4 M200.31,504.1 V508.7 M211.08,311.8 V316.4 M211.08,504.1 V508.7 M221.85,310.4 V317.8 M221.85,502.7 V510.1 M232.62,311.8 V316.4 M232.62,504.1 V508.7 M243.39,311.8 V316.4 M243.39,504.1 V508.7 M254.16,311.8 V316.4 M254.16,504.1 V508.7 M264.93,311.8 V316.4 M264.93,504.1 V508.7 M275.7,310.4 V317.8 M275.7,502.7 V510.1 M286.47,311.8 V316.4 M286.47,504.1 V508.7 M306.3,311.8 V316.4 M306.3,504.1 V508.7 M313,310.4 V317.8 M313,502.7 V510.1 M319.5,311.8 V316.4 M319.5,504.1 V508.7" stroke="#000" stroke-width="1.1" fill="none"/>
<path d="M295.7,316.5 L298.3,311.7 M298.3,316.5 L300.9,311.7" stroke="#000" stroke-width="1.3" fill="none"/>
<path d="M295.7,508.8 L298.3,504 M298.3,508.8 L300.9,504" stroke="#000" stroke-width="1.3" fill="none"/>
<g font-family='"Liberation Sans", sans-serif' font-weight="bold" font-size="11.5" fill="#000" stroke="#000" stroke-width="0.25"><text x="50.5" y="484.4" text-anchor="end">0</text><text x="50.5" y="456.7" text-anchor="end">20</text><text x="50.5" y="429" text-anchor="end">40</text><text x="50.5" y="401.3" text-anchor="end">60</text><text x="50.5" y="373.6" text-anchor="end">80</text><text x="50.5" y="345.9" text-anchor="end">100</text><text x="50.5" y="318.2" text-anchor="end">120</text><text x="60.3" y="525.5" text-anchor="middle">7.0</text><text x="114.15" y="525.5" text-anchor="middle">6.5</text><text x="168" y="525.5" text-anchor="middle">6.0</text><text x="221.85" y="525.5" text-anchor="middle">5.5</text><text x="275.7" y="525.5" text-anchor="middle">5.0</text><text x="313" y="525.5" text-anchor="middle">4.0</text></g>
<path d="M60.3,463 L61.3,462.78 L62.3,462.53 L63.3,462.24 L64.3,461.92 L65.3,461.56 L66.3,461.18 L67.3,460.79 L68.3,460.37 L69.3,459.95 L70.3,459.51 L71.3,459.06 L72.3,458.61 L73.3,458.14 L74.3,457.66 L75.3,457.18 L76.3,456.68 L77.3,456.17 L78.3,455.65 L79.3,455.12 L80.3,454.57 L81.3,454 L82.3,453.42 L83.3,452.81 L84.3,452.19 L85.3,451.55 L86.3,450.89 L87.3,450.21 L88.3,449.51 L89.3,448.79 L90.3,448.06 L91.3,447.31 L92.3,446.54 L93.3,445.77 L94.3,444.98 L95.3,444.18 L96.3,443.36 L97.3,442.54 L98.3,441.7 L99.3,440.86 L100.3,440.01 L101.3,439.16 L102.3,438.31 L103.3,437.47 L104.3,436.63 L105.3,435.8 L106.3,434.97 L107.3,434.16 L108.3,433.36 L109.3,432.56 L110.3,431.76 L111.3,430.96 L112.3,430.15 L113.3,429.34 L114.3,428.5 L115.3,427.65 L116.3,426.78 L117.3,425.88 L118.3,424.97 L119.3,424.04 L120.3,423.1 L121.3,422.14 L122.3,421.17 L123.3,420.18 L124.3,419.2 L125.3,418.2 L126.3,417.21 L127.3,416.22 L128.3,415.23 L129.3,414.25 L130.3,413.28 L131.3,412.31 L132.3,411.36 L133.3,410.41 L134.3,409.48 L135.3,408.55 L136.3,407.62 L137.3,406.7 L138.3,405.79 L139.3,404.87 L140.3,403.96 L141.3,403.05 L142.3,402.14 L143.3,401.24 L144.3,400.33 L145.3,399.42 L146.3,398.51 L147.3,397.61 L148.3,396.7 L149.3,395.79 L150.3,394.88 L151.3,393.98 L152.3,393.07 L153.3,392.16 L154.3,391.25 L155.3,390.34 L156.3,389.43 L157.3,388.52 L158.3,387.59 L159.3,386.67 L160.3,385.73 L161.3,384.79 L162.3,383.84 L163.3,382.89 L164.3,381.94 L165.3,380.99 L166.3,380.05 L167.3,379.13 L168.3,378.22 L169.3,377.34 L170.3,376.48 L171.3,375.65 L172.3,374.84 L173.3,374.06 L174.3,373.3 L175.3,372.55 L176.3,371.82 L177.3,371.1 L178.3,370.38 L179.3,369.68 L180.3,368.98 L181.3,368.29 L182.3,367.61 L183.3,366.94 L184.3,366.29 L185.3,365.65 L186.3,365.02 L187.3,364.42 L188.3,363.84 L189.3,363.29 L190.3,362.76 L191.3,362.25 L192.3,361.76 L193.3,361.3 L194.3,360.85 L195.3,360.41 L196.3,359.99 L197.3,359.58 L198.3,359.18 L199.3,358.78 L200.3,358.39 L201.3,358.01 L202.3,357.63 L203.3,357.25 L204.3,356.88 L205.3,356.51 L206.3,356.15 L207.3,355.79 L208.3,355.43 L209.3,355.08 L210.3,354.73 L211.3,354.39 L212.3,354.05 L213.3,353.71 L214.3,353.38 L215.3,353.04 L216.3,352.71 L217.3,352.39 L218.3,352.06 L219.3,351.74 L220.3,351.42 L221.3,351.1 L222.3,350.78 L223.3,350.47 L224.3,350.15 L225.3,349.84 L226.3,349.54 L227.3,349.24 L228.3,348.95 L229.3,348.66 L230.3,348.39 L231.3,348.12 L232.3,347.86 L233.3,347.61 L234.3,347.37 L235.3,347.14 L236.3,346.92 L237.3,346.7 L238.3,346.5 L239.3,346.3 L240.3,346.11 L241.3,345.93 L242.3,345.75 L243.3,345.59 L244.3,345.43 L245.3,345.27 L246.3,345.12 L247.3,344.98 L248.3,344.85 L249.3,344.72 L250.3,344.6 L251.3,344.49 L252.3,344.38 L253.3,344.28 L254.3,344.19 L255.3,344.1 L256.3,344.01 L257.3,343.93 L258.3,343.86 L259.3,343.79 L260.3,343.72 L261.3,343.66 L262.3,343.6 L263.3,343.54 L264.3,343.49 L265.3,343.43 L266.3,343.38 L267.3,343.34 L268.3,343.29 L269.3,343.24 L270.3,343.2 L271.3,343.16 L272.3,343.12 L273.3,343.07 L274.3,343.03 L275.3,342.99 L276.3,342.96 L277.3,342.92 L278.3,342.88 L279.3,342.84 L280.3,342.81 L281.3,342.77 L282.3,342.74 L283.3,342.71 L284.3,342.68 L285.3,342.65 L286.3,342.62 L287.3,342.59 L288.3,342.57 L289.3,342.54 L290.3,342.52 L291.3,342.5 L292.3,342.48 L293.3,342.47 L294.3,342.45 L295.3,342.44 L296.3,342.43 L297.3,342.42 L297.5,342.42" stroke="#000" stroke-width="1.1" fill="none"/>
<path d="M60.3,477.27 L61.3,477.19 L62.3,477.09 L63.3,476.97 L64.3,476.84 L65.3,476.7 L66.3,476.55 L67.3,476.38 L68.3,476.21 L69.3,476.03 L70.3,475.83 L71.3,475.64 L72.3,475.43 L73.3,475.22 L74.3,475 L75.3,474.77 L76.3,474.53 L77.3,474.29 L78.3,474.05 L79.3,473.8 L80.3,473.55 L81.3,473.29 L82.3,473.04 L83.3,472.78 L84.3,472.52 L85.3,472.26 L86.3,472 L87.3,471.74 L88.3,471.48 L89.3,471.22 L90.3,470.96 L91.3,470.69 L92.3,470.42 L93.3,470.15 L94.3,469.87 L95.3,469.59 L96.3,469.3 L97.3,469 L98.3,468.69 L99.3,468.37 L100.3,468.04 L101.3,467.69 L102.3,467.32 L103.3,466.93 L104.3,466.53 L105.3,466.11 L106.3,465.66 L107.3,465.2 L108.3,464.72 L109.3,464.21 L110.3,463.68 L111.3,463.14 L112.3,462.57 L113.3,462 L114.3,461.41 L115.3,460.81 L116.3,460.2 L117.3,459.6 L118.3,458.98 L119.3,458.37 L120.3,457.75 L121.3,457.12 L122.3,456.48 L123.3,455.83 L124.3,455.17 L125.3,454.48 L126.3,453.78 L127.3,453.06 L128.3,452.32 L129.3,451.56 L130.3,450.78 L131.3,449.98 L132.3,449.16 L133.3,448.34 L134.3,447.5 L135.3,446.65 L136.3,445.8 L137.3,444.93 L138.3,444.06 L139.3,443.18 L140.3,442.29 L141.3,441.39 L142.3,440.47 L143.3,439.53 L144.3,438.57 L145.3,437.59 L146.3,436.59 L147.3,435.57 L148.3,434.53 L149.3,433.48 L150.3,432.41 L151.3,431.32 L152.3,430.22 L153.3,429.12 L154.3,428.01 L155.3,426.89 L156.3,425.77 L157.3,424.64 L158.3,423.52 L159.3,422.4 L160.3,421.27 L161.3,420.14 L162.3,419.01 L163.3,417.87 L164.3,416.72 L165.3,415.55 L166.3,414.38 L167.3,413.19 L168.3,411.98 L169.3,410.75 L170.3,409.51 L171.3,408.26 L172.3,406.98 L173.3,405.7 L174.3,404.39 L175.3,403.08 L176.3,401.75 L177.3,400.42 L178.3,399.07 L179.3,397.72 L180.3,396.37 L181.3,395.02 L182.3,393.68 L183.3,392.35 L184.3,391.03 L185.3,389.74 L186.3,388.48 L187.3,387.26 L188.3,386.07 L189.3,384.92 L190.3,383.8 L191.3,382.73 L192.3,381.7 L193.3,380.7 L194.3,379.73 L195.3,378.79 L196.3,377.87 L197.3,376.98 L198.3,376.11 L199.3,375.26 L200.3,374.43 L201.3,373.61 L202.3,372.8 L203.3,372.02 L204.3,371.24 L205.3,370.48 L206.3,369.74 L207.3,369.02 L208.3,368.31 L209.3,367.63 L210.3,366.95 L211.3,366.3 L212.3,365.66 L213.3,365.04 L214.3,364.43 L215.3,363.83 L216.3,363.24 L217.3,362.65 L218.3,362.06 L219.3,361.47 L220.3,360.87 L221.3,360.27 L222.3,359.66 L223.3,359.05 L224.3,358.42 L225.3,357.8 L226.3,357.17 L227.3,356.55 L228.3,355.94 L229.3,355.33 L230.3,354.74 L231.3,354.17 L232.3,353.61 L233.3,353.07 L234.3,352.55 L235.3,352.04 L236.3,351.56 L237.3,351.1 L238.3,350.65 L239.3,350.23 L240.3,349.82 L241.3,349.44 L242.3,349.07 L243.3,348.73 L244.3,348.4 L245.3,348.09 L246.3,347.8 L247.3,347.52 L248.3,347.26 L249.3,347.01 L250.3,346.77 L251.3,346.55 L252.3,346.33 L253.3,346.12 L254.3,345.92 L255.3,345.73 L256.3,345.55 L257.3,345.37 L258.3,345.2 L259.3,345.03 L260.3,344.88 L261.3,344.73 L262.3,344.59 L263.3,344.45 L264.3,344.33 L265.3,344.21 L266.3,344.1 L267.3,344 L268.3,343.9 L269.3,343.81 L270.3,343.73 L271.3,343.64 L272.3,343.56 L273.3,343.49 L274.3,343.41 L275.3,343.34 L276.3,343.27 L277.3,343.2 L278.3,343.14 L279.3,343.07 L280.3,343.01 L281.3,342.95 L282.3,342.89 L283.3,342.84 L284.3,342.79 L285.3,342.74 L286.3,342.69 L287.3,342.65 L288.3,342.61 L289.3,342.58 L290.3,342.55 L291.3,342.52 L292.3,342.49 L293.3,342.47 L294.3,342.45 L295.3,342.44 L296.3,342.43 L297.3,342.42 L297.5,342.41" stroke="#000" stroke-width="1.1" fill="none"/>
<path d="M301.2,342.3 H326.5" stroke="#000" stroke-width="1.1" fill="none"/>
<path d="M114.15,427 V433.3 M111.35,427 H116.95 M111.35,433.3 H116.95" stroke="#000" stroke-width="1.1" fill="none"/>
<circle cx="114.1" cy="463.9" r="2.9" fill="#fff" stroke="#000" stroke-width="1.1"/>
<circle cx="168" cy="409.7" r="2.9" fill="#fff" stroke="#000" stroke-width="1.1"/>
<circle cx="189.9" cy="384.8" r="2.9" fill="#fff" stroke="#000" stroke-width="1.1"/>
<circle cx="211.2" cy="369.6" r="2.9" fill="#fff" stroke="#000" stroke-width="1.1"/>
<circle cx="232.7" cy="355" r="2.9" fill="#fff" stroke="#000" stroke-width="1.1"/>
<circle cx="254.4" cy="342.1" r="2.9" fill="#fff" stroke="#000" stroke-width="1.1"/>
<circle cx="313" cy="342.1" r="2.9" fill="#fff" stroke="#000" stroke-width="1.1"/>
<circle cx="114.1" cy="429.6" r="3.6" fill="#000"/>
<circle cx="168" cy="376.3" r="3.6" fill="#000"/>
<circle cx="189.9" cy="363.4" r="3.6" fill="#000"/>
<circle cx="211.2" cy="356.7" r="3.6" fill="#000"/>
<circle cx="232.7" cy="347" r="3.6" fill="#000"/>
<rect x="64.6" y="321.7" width="98.9" height="39.1" fill="#fff" stroke="#000" stroke-width="1.2"/>
<circle cx="79.6" cy="333.1" r="3.3" fill="#000"/>
<circle cx="79.6" cy="348.6" r="2.8" fill="#fff" stroke="#000" stroke-width="1.1"/>
<g font-family='"Liberation Sans", sans-serif' font-weight="bold" font-size="9.8" fill="#000"><text x="95.2" y="338.9" textLength="61.8" lengthAdjust="spacingAndGlyphs">D145E at 30<tspan font-size="6.8" dy="-5.3">O</tspan><tspan dy="5.3">C</tspan></text><text x="95.2" y="352.8" textLength="48.7" lengthAdjust="spacingAndGlyphs">WT at 30<tspan font-size="6.8" dy="-5.3">O</tspan><tspan dy="5.3">C</tspan></text></g>
<text x="0" y="0" transform="translate(21,409.2) rotate(-90)" text-anchor="middle" font-family='"Liberation Sans", sans-serif' font-weight="bold" font-size="13.4" fill="#000" stroke="#000" stroke-width="0.4">Relative Force (%)</text>
<clipPath id="pcc"><rect x="172.6" y="531.2" width="40" height="17.8"/></clipPath>
<text x="179" y="547.2" clip-path="url(#pcc)" textLength="26.6" lengthAdjust="spacingAndGlyphs" font-family='"Liberation Sans", sans-serif' font-size="15.3" fill="#000" stroke="#000" stroke-width="0.45">pCa</text>
<text x="27.9" y="295.5" font-family='"Liberation Sans", sans-serif' font-size="23.8" fill="#000" stroke="#000" stroke-width="0.6">c</text>
<path d="M412.8,312.2 V499.3 H671.8 V312.2 Z" stroke="#000" stroke-width="1.3" fill="none"/>
<path d="M409.2,499.3 H412.8 M409.2,480.62 H412.8 M409.2,461.94 H412.8 M409.2,443.26 H412.8 M409.2,424.58 H412.8 M409.2,405.9 H412.8 M409.2,387.22 H412.8 M409.2,368.54 H412.8 M409.2,349.86 H412.8 M409.2,331.18 H412.8 M409.2,312.5 H412.8 M428.2,499.3 V502.9 M459.14,499.3 V502.9 M490.08,499.3 V502.9 M521.02,499.3 V502.9 M551.96,499.3 V502.9 M582.9,499.3 V502.9 M613.84,499.3 V502.9 M644.78,499.3 V502.9" stroke="#000" stroke-width="1.1" fill="none"/>
<g font-family='"Liberation Sans", sans-serif' font-weight="bold" font-size="10.5" fill="#000"><text x="402.3" y="503.8" text-anchor="end">0</text><text x="402.3" y="485.12" text-anchor="end">20</text><text x="402.3" y="466.44" text-anchor="end">40</text><text x="402.3" y="447.76" text-anchor="end">60</text><text x="402.3" y="429.08" text-anchor="end">80</text><text x="402.3" y="410.4" text-anchor="end">100</text><text x="402.3" y="391.72" text-anchor="end">120</text><text x="402.3" y="373.04" text-anchor="end">140</text><text x="402.3" y="354.36" text-anchor="end">160</text><text x="402.3" y="335.68" text-anchor="end">180</text><text x="402.3" y="317" text-anchor="end">200</text><text x="428.2" y="518.2" text-anchor="middle">15</text><text x="459.14" y="518.2" text-anchor="middle">17</text><text x="490.08" y="518.2" text-anchor="middle">19</text><text x="521.02" y="518.2" text-anchor="middle">21</text><text x="551.96" y="518.2" text-anchor="middle">23</text><text x="582.9" y="518.2" text-anchor="middle">25</text><text x="613.84" y="518.2" text-anchor="middle">27</text><text x="644.78" y="518.2" text-anchor="middle">29</text></g>
<rect x="420.3" y="427.5" width="6.4" height="71.8" fill="#000"/>
<rect x="430.25" y="417.35" width="5" height="81.95" fill="#d2d2d2" stroke="#000" stroke-width="1.1"/>
<path d="M432.75,416.8 V414.2 M430.35,414.2 H435.15" stroke="#000" stroke-width="1.1"/>
<rect x="513.12" y="406.3" width="6.4" height="93" fill="#000"/>
<rect x="523.07" y="406.85" width="5" height="92.45" fill="#d2d2d2" stroke="#000" stroke-width="1.1"/>
<rect x="575" y="388.1" width="6.4" height="111.2" fill="#000"/>
<rect x="584.95" y="385.65" width="5" height="113.65" fill="#d2d2d2" stroke="#000" stroke-width="1.1"/>
<path d="M578.2,388.1 V382.9 M575.8,382.9 H580.6" stroke="#000" stroke-width="1.1"/>
<path d="M587.45,385.1 V378.4 M585.05,378.4 H589.85" stroke="#000" stroke-width="1.1"/>
<rect x="652.35" y="342.4" width="6.4" height="156.9" fill="#000"/>
<rect x="662.3" y="382.15" width="5" height="117.15" fill="#d2d2d2" stroke="#000" stroke-width="1.1"/>
<path d="M655.55,342.4 V329.7 M653.15,329.7 H657.95" stroke="#000" stroke-width="1.1"/>
<path d="M664.8,381.6 V375 M662.4,375 H667.2" stroke="#000" stroke-width="1.1"/>
<text x="422.7" y="418.5" text-anchor="middle" font-family='"Liberation Sans", sans-serif' font-weight="bold" font-size="10">*</text>
<text x="655.3" y="326.5" text-anchor="middle" font-family='"Liberation Sans", sans-serif' font-weight="bold" font-size="10">*</text>
<rect x="422.7" y="318.9" width="63.2" height="31.6" fill="#fff" stroke="#000" stroke-width="1.2"/>
<rect x="428" y="326.5" width="20.8" height="4.7" fill="#000"/>
<rect x="428.5" y="338" width="19.8" height="4.2" fill="#d2d2d2" stroke="#000" stroke-width="1"/>
<g font-family='"Liberation Sans", sans-serif' font-weight="bold" font-size="9.6" fill="#000"><text x="452.9" y="331.6" textLength="12.8" lengthAdjust="spacingAndGlyphs">WT</text><text x="453.0" y="343" textLength="26" lengthAdjust="spacingAndGlyphs">D145E</text></g>
<g font-family='"Liberation Sans", sans-serif' font-weight="bold" font-size="12.2" fill="#000" stroke="#000" stroke-width="0.15"><text transform="translate(354.7,487.1) rotate(-90)" textLength="159" lengthAdjust="spacingAndGlyphs">Relative Maximal Tension</text><text transform="translate(371.2,482.6) rotate(-90)" textLength="155.4" lengthAdjust="spacingAndGlyphs">(% Max. Tension at 21<tspan font-size="9" dy="-4.6">O</tspan><tspan dy="4.6">C)</tspan></text></g>
<clipPath id="tclip"><rect x="480" y="525" width="130" height="22.6"/></clipPath>
<text x="488.6" y="545.2" clip-path="url(#tclip)" textLength="107.4" lengthAdjust="spacingAndGlyphs" font-family='"Liberation Sans", sans-serif' font-size="13.4" fill="#000" stroke="#000" stroke-width="0.5">Temperature (<tspan font-size="9.5" dy="-4.8">O</tspan><tspan dy="4.8">C)</tspan></text>
<text x="383.1" y="295.1" font-family='"Liberation Sans", sans-serif' font-size="23.8" fill="#000" stroke="#000" stroke-width="0.6">d</text>
</svg>
</body></html>
